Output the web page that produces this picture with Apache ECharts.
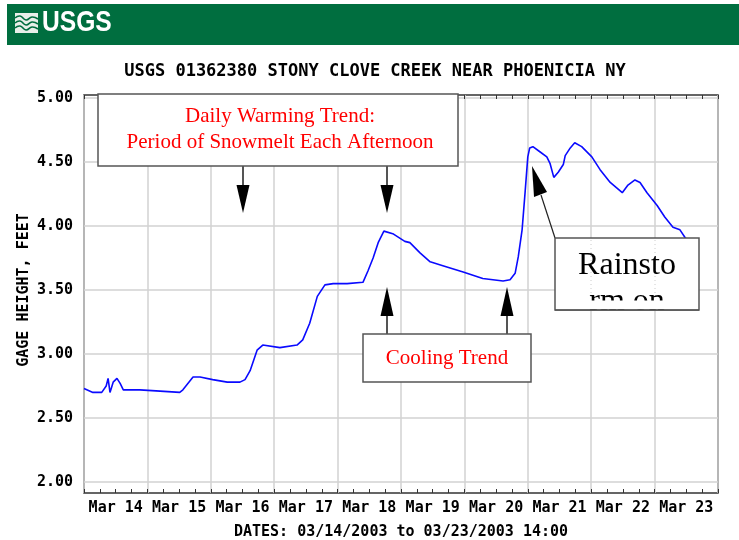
<!DOCTYPE html>
<html>
<head>
<meta charset="utf-8">
<script src="https://cdn.jsdelivr.net/npm/echarts@6/dist/echarts.min.js"></script>
<style>
  html, body { margin: 0; padding: 0; background: #fff; }
  #chart { width: 739px; height: 540px; }
</style>
</head>
<body>
<div id="chart"></div>
<script>
// categories on the date axis (one per day)
const dayLabels = ['Mar 14', 'Mar 15', 'Mar 16', 'Mar 17', 'Mar 18', 'Mar 19', 'Mar 20', 'Mar 21', 'Mar 22', 'Mar 23'];
// time of each reading, in days since 03/14/2003 00:00
const dayOffsets = [0, 0.14, 0.28, 0.35, 0.38, 0.41, 0.46, 0.52, 0.57, 0.62,
  0.88, 1.20, 1.51, 1.56, 1.72, 1.83, 2.03, 2.26, 2.46,
  2.54, 2.62, 2.73, 2.82, 3.09, 3.36, 3.45, 3.56, 3.68, 3.80,
  3.93, 4.15, 4.40, 4.48, 4.56, 4.64, 4.73, 4.87, 5.06, 5.14,
  5.30, 5.46, 5.66, 5.98, 6.29, 6.61, 6.72, 6.80, 6.85, 6.91,
  6.96, 7.00, 7.03, 7.08, 7.19, 7.30, 7.35, 7.41, 7.48, 7.56,
  7.59, 7.67, 7.74, 7.85, 8.01, 8.14, 8.30, 8.49, 8.58, 8.69,
  8.77, 8.88, 9.04, 9.16, 9.29, 9.40, 9.48, 9.54];
// gage height, feet
const gageHeight = [2.73, 2.70, 2.70, 2.75, 2.81, 2.70, 2.78, 2.81, 2.77, 2.72,
  2.72, 2.71, 2.70, 2.72, 2.82, 2.82, 2.80, 2.78, 2.78,
  2.80, 2.87, 3.03, 3.07, 3.05, 3.07, 3.11, 3.24, 3.45, 3.54,
  3.55, 3.55, 3.56, 3.65, 3.75, 3.87, 3.96, 3.94, 3.88, 3.87,
  3.79, 3.72, 3.69, 3.64, 3.59, 3.57, 3.58, 3.63, 3.76, 3.97,
  4.28, 4.54, 4.61, 4.62, 4.58, 4.54, 4.49, 4.38, 4.42, 4.48,
  4.55, 4.61, 4.65, 4.62, 4.54, 4.44, 4.34, 4.26, 4.32, 4.36,
  4.34, 4.26, 4.16, 4.07, 3.99, 3.97, 3.91, 3.88];
// y axis ticks
const yMin = 2, yMax = 5, yStep = 0.5;

const seriesData = dayOffsets.map((d, i) => [d, gageHeight[i]]);

const mono = "'DejaVu Sans Mono', monospace";
const serif = "'Liberation Serif', 'Times New Roman', serif";
const boxStroke = '#555';

var myChart = echarts.init(document.getElementById('chart'));

function downArrow(x) {
  return [
    {type: 'line', z: 100, shape: {x1: x, y1: 166, x2: x, y2: 186}, style: {stroke: '#555', lineWidth: 2}},
    {type: 'polygon', z: 100, shape: {points: [[x - 6.5, 185], [x + 6.5, 185], [x, 213]]}, style: {fill: '#000'}}
  ];
}
function upArrow(x) {
  return [
    {type: 'line', z: 100, shape: {x1: x, y1: 315, x2: x, y2: 334}, style: {stroke: '#555', lineWidth: 2}},
    {type: 'polygon', z: 100, shape: {points: [[x - 6.5, 316], [x + 6.5, 316], [x, 287]]}, style: {fill: '#000'}}
  ];
}
function txt(x, y, text, font, color) {
  return {type: 'text', z: 101, x: x, y: y, style: {
    text: text, font: font, fill: color,
    align: 'center', verticalAlign: 'middle', textAlign: 'center', textVerticalAlign: 'middle'
  }};
}

var graphics = [
  // USGS header band
  {type: 'rect', z: 100, shape: {x: 7, y: 4, width: 732, height: 41}, style: {fill: '#006e3f'}},
  {type: 'rect', z: 101, shape: {x: 15, y: 13, width: 23, height: 20}, style: {fill: '#e8efe9'}},
  {type: 'polyline', z: 102, shape: {points: [[15, 18], [20, 16], [26, 20], [32, 17], [38, 19]], smooth: 0.5}, style: {stroke: '#006e3f', lineWidth: 1.6, fill: null}},
  {type: 'polyline', z: 102, shape: {points: [[15, 23], [20, 21], [26, 25], [32, 22], [38, 24]], smooth: 0.5}, style: {stroke: '#006e3f', lineWidth: 1.6, fill: null}},
  {type: 'polyline', z: 102, shape: {points: [[15, 28], [20, 26], [26, 30], [32, 27], [38, 29]], smooth: 0.5}, style: {stroke: '#006e3f', lineWidth: 1.6, fill: null}},
  {type: 'text', z: 101, x: 42, y: 23, scaleX: 0.82, style: {
    text: 'USGS', font: "bold 30px 'Liberation Sans', Arial, sans-serif", fill: '#fff',
    align: 'left', verticalAlign: 'middle', textAlign: 'left', textVerticalAlign: 'middle'
  }},
  // chart title
  txt(375, 72, 'USGS 01362380 STONY CLOVE CREEK NEAR PHOENICIA NY', 'bold 17px ' + mono, '#000'),

  // warming trend box
  {type: 'rect', z: 100, shape: {x: 98, y: 94, width: 360, height: 72}, style: {fill: '#fff', stroke: boxStroke, lineWidth: 1.5}},
  txt(280, 116, 'Daily Warming Trend:', '21px ' + serif, '#ff0000'),
  txt(280, 142, 'Period of Snowmelt Each Afternoon', '21px ' + serif, '#ff0000'),
  ...downArrow(243),
  ...downArrow(387),

  // cooling trend box
  {type: 'rect', z: 100, shape: {x: 363, y: 334, width: 168, height: 48}, style: {fill: '#fff', stroke: boxStroke, lineWidth: 1.5}},
  txt(447, 358, 'Cooling Trend', '21px ' + serif, '#ff0000'),
  ...upArrow(387),
  ...upArrow(507),

  // rainstorm box (second text line is cut off by the box edge)
  {type: 'line', z: 100, shape: {x1: 555, y1: 238, x2: 541, y2: 195}, style: {stroke: '#222', lineWidth: 1.2}},
  {type: 'polygon', z: 100, shape: {points: [[532, 166], [534, 197], [547, 192]]}, style: {fill: '#000'}},
  {type: 'rect', z: 100, shape: {x: 555, y: 238, width: 144, height: 72}, style: {fill: '#fff', stroke: boxStroke, lineWidth: 1.5}},
  {type: 'line', z: 101, shape: {x1: 591, y1: 240, x2: 591, y2: 300}, style: {stroke: '#ccc', lineWidth: 1, lineDash: [1, 3]}},
  {type: 'line', z: 101, shape: {x1: 655, y1: 240, x2: 655, y2: 300}, style: {stroke: '#ccc', lineWidth: 1, lineDash: [1, 3]}},
  txt(627, 266, 'Rainsto', '32px ' + serif, '#000'),
  {type: 'text', z: 101, x: 627, y: 286, style: {
    text: 'rm on', font: '32px ' + serif, fill: '#000',
    align: 'center', verticalAlign: 'top', textAlign: 'center', textVerticalAlign: 'top'
  }},
  {type: 'rect', z: 110, shape: {x: 556, y: 300.5, width: 142, height: 8.7}, style: {fill: '#fff'}},
  {type: 'line', z: 111, shape: {x1: 555, y1: 310, x2: 699, y2: 310}, style: {stroke: boxStroke, lineWidth: 1.5}}
];

var option = {
  animation: false,
  backgroundColor: '#fff',
  grid: [
    {left: 84, top: 95, width: 634, height: 398, show: true, borderColor: '#333', borderWidth: 1.5,
      backgroundColor: 'transparent', outerBoundsMode: 'none', containLabel: false},
    {left: 84, top: 98, width: 634, height: 384, outerBoundsMode: 'none', containLabel: false}
  ],
  xAxis: [
    { // frame bottom: day grid lines + 6-hour ticks
      gridIndex: 0, type: 'value', min: 0, max: 10, interval: 1, position: 'bottom',
      axisLine: {show: false},
      axisTick: {show: true, inside: true, length: 4, lineStyle: {color: '#333'}},
      minorTick: {show: true, splitNumber: 4, length: 4, lineStyle: {color: '#333'}},
      splitLine: {show: true, lineStyle: {color: '#d2d2d2', width: 1.5}},
      axisLabel: {show: false}
    },
    { // frame top ticks
      gridIndex: 0, type: 'value', min: 0, max: 10, interval: 1, position: 'top',
      axisLine: {show: false},
      axisTick: {show: true, inside: true, length: 4, lineStyle: {color: '#333'}},
      minorTick: {show: true, splitNumber: 4, length: 4, lineStyle: {color: '#333'}},
      splitLine: {show: false},
      axisLabel: {show: false}
    },
    { // data axis
      gridIndex: 1, type: 'value', min: 0, max: 10, position: 'top', show: false
    },
    { // day labels
      gridIndex: 1, type: 'category', data: dayLabels, boundaryGap: true, position: 'bottom', offset: 11,
      axisLine: {show: false}, axisTick: {show: false}, splitLine: {show: false},
      axisLabel: {color: '#000', fontFamily: mono, fontWeight: 'bold', fontSize: 15, margin: 8, interval: 0},
      name: 'DATES: 03/14/2003 to 03/23/2003 14:00',
      nameLocation: 'middle', nameGap: 32, nameMoveOverlap: false,
      nameTextStyle: {color: '#000', fontFamily: mono, fontWeight: 'bold', fontSize: 15}
    }
  ],
  yAxis: [
    {gridIndex: 0, type: 'value', min: 0, max: 1, show: false},
    {
      gridIndex: 1, type: 'value', min: yMin, max: yMax, interval: yStep,
      axisLine: {show: false}, axisTick: {show: false},
      splitLine: {show: true, lineStyle: {color: '#d2d2d2', width: 1.5}},
      axisLabel: {
        color: '#000', fontFamily: mono, fontWeight: 'bold', fontSize: 15, margin: 11,
        formatter: v => v.toFixed(2)
      },
      name: 'GAGE HEIGHT, FEET', nameLocation: 'middle', nameGap: 52, nameMoveOverlap: false,
      nameTextStyle: {color: '#000', fontFamily: mono, fontWeight: 'bold', fontSize: 15}
    }
  ],
  series: [{
    type: 'line',
    xAxisIndex: 2,
    yAxisIndex: 1,
    data: seriesData,
    showSymbol: false,
    lineStyle: {color: '#0a0aff', width: 1.6},
    z: 5
  }],
  graphic: graphics
};

myChart.setOption(option);
</script>
</body>
</html>
